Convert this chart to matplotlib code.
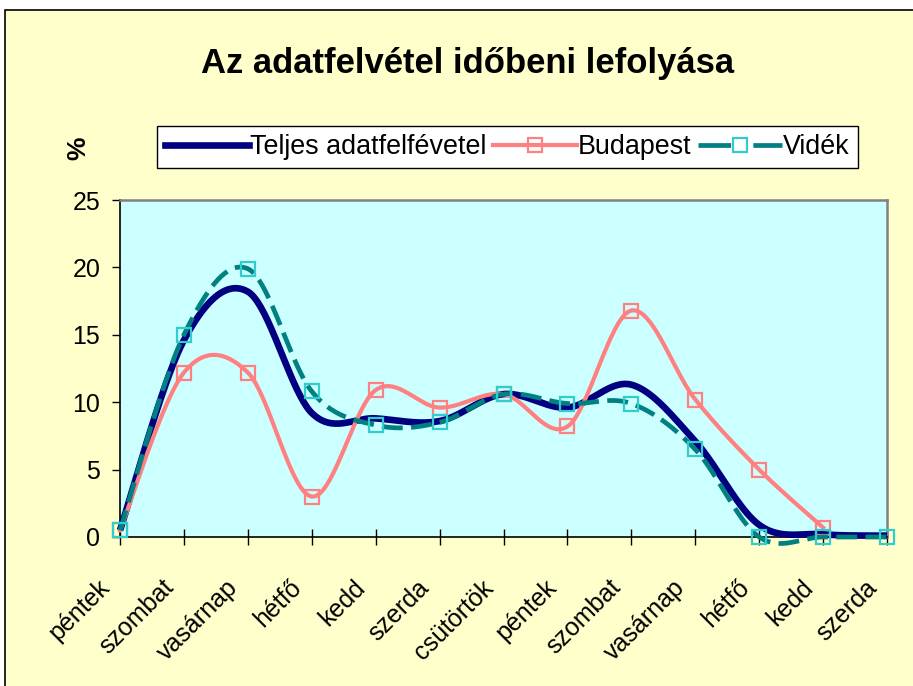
import numpy as np
import matplotlib
matplotlib.use("Agg")
import matplotlib.pyplot as plt
from matplotlib.patches import Rectangle
from matplotlib.transforms import ScaledTranslation

plt.rcParams['font.family'] = ['Liberation Sans', 'DejaVu Sans']
plt.rcParams['lines.scale_dashes'] = False

categories = ["péntek", "szombat", "vasárnap", "hétfő", "kedd", "szerda",
              "csütörtök", "péntek", "szombat", "vasárnap", "hétfő", "kedd", "szerda"]
teljes = [0.5, 14.6, 18.2, 9.2, 8.8, 8.6, 10.6, 9.6, 11.3, 7.1, 0.9, 0.2, 0.1]
budapest = [0.5, 12.2, 12.2, 3.0, 10.9, 9.6, 10.6, 8.2, 16.8, 10.2, 5.0, 0.7, np.nan]
videk = [0.5, 15.0, 19.9, 10.8, 8.3, 8.5, 10.6, 9.9, 9.9, 6.5, 0.0, 0.0, 0.0]
yticks = [0, 5, 10, 15, 20, 25]
title = "Az adatfelvétel időbeni lefolyása"
ylabel = "%"
series_names = ["Teljes adatfelfévetel", "Budapest", "Vidék"]


def smooth(xs, ys, n=40):
    xs = np.asarray(xs, float)
    ys = np.asarray(ys, float)
    m = ~np.isnan(ys)
    xs, ys = xs[m], ys[m]
    P = np.column_stack([xs, ys])
    k = len(P)
    out = []
    for i in range(k - 1):
        p0 = P[i - 1] if i > 0 else P[i]
        p1 = P[i]
        p2 = P[i + 1]
        p3 = P[i + 2] if i + 2 < k else P[i + 1]
        c1 = p1 + (p2 - p0) / 6.0
        c2 = p2 - (p3 - p1) / 6.0
        t = np.linspace(0, 1, n)[:, None]
        seg = ((1 - t) ** 3) * p1 + 3 * ((1 - t) ** 2) * t * c1 + 3 * (1 - t) * t ** 2 * c2 + t ** 3 * p2
        if i > 0:
            seg = seg[1:]
        out.append(seg)
    c = np.vstack(out)
    return c[:, 0], c[:, 1]


W, H = 913, 686
fig = plt.figure(figsize=(W / 100, H / 100), dpi=100, facecolor='white')
fig.patches.append(Rectangle((5 / W, -0.05), 1.1, 1 - 10 / H + 0.05, transform=fig.transFigure,
                             facecolor='#FFFFCC', edgecolor='black', lw=1.2, zorder=-10))

ax = fig.add_axes([120 / W, (H - 537) / H, 767 / W, 337 / H])
ax.set_zorder(2)
ax.set_facecolor('#CCFFFF')
x = np.arange(len(categories))

sx, sy = smooth(x, teljes)
ax.plot(sx, sy, color='#000080', lw=4.8, solid_capstyle='butt', clip_on=False, zorder=3)
sx, sy = smooth(x, budapest)
ax.plot(sx, sy, color='#FF8080', lw=3.0, clip_on=False, zorder=4)
ax.plot(x, budapest, ls='none', marker='s', ms=10, mfc='none', mec='#FF8080', mew=1.6,
        clip_on=False, zorder=5)
sx, sy = smooth(x, videk)
ax.plot(sx, sy, color='#008080', lw=3.4, dashes=(15, 6), dash_capstyle='butt', clip_on=False, zorder=6)
ax.plot(x, videk, ls='none', marker='s', ms=10, mfc='none', mec='#33CCCC', mew=1.6,
        clip_on=False, zorder=7)

ax.set_xlim(0, len(categories) - 1)
ax.set_ylim(0, 25)
ax.set_yticks(yticks)
ax.set_yticklabels([str(v) for v in yticks], fontsize=18)
ax.set_xticks(x)
ax.set_xticklabels(categories, fontsize=18, rotation=45, ha='right', va='center',
                   rotation_mode='anchor')
ax.tick_params(axis='y', direction='out', length=5.8, width=1, pad=8.5, color='black')
ax.tick_params(axis='x', direction='inout', length=11.5, width=1, pad=28, color='black')
off = ScaledTranslation(-14 / 100, 0, fig.dpi_scale_trans)
for lab in ax.get_xticklabels():
    lab.set_transform(lab.get_transform() + off)

for s in ['left', 'bottom']:
    ax.spines[s].set_color('black')
    ax.spines[s].set_linewidth(1.2)
for s in ['top', 'right']:
    ax.spines[s].set_color('#808080')
    ax.spines[s].set_linewidth(1.8)

fig.text(468 / W, 1 - 64 / H, title, ha='center', va='center', fontsize=24.9, fontweight='bold')
fig.text(78 / W, 1 - 148 / H, ylabel, ha='center', va='center', fontsize=19, fontweight='bold',
         rotation=90)

h1 = plt.Line2D([], [], color='#000080', lw=4.8)
h2 = plt.Line2D([], [], color='#FF8080', lw=3.0, marker='s', ms=10, mfc='none', mec='#FF8080', mew=1.6)
h3 = plt.Line2D([], [], color='#008080', lw=3.4, dashes=(23.5, 16), dash_capstyle='butt',
                marker='s', ms=10, mfc='white', mec='#33CCCC', mew=1.6)
leg = fig.legend([h1, h2, h3], series_names, loc='center', bbox_to_anchor=(507.5 / W, 1 - 147 / H),
                 ncol=3, fontsize=19.4, frameon=True, fancybox=False, framealpha=1, edgecolor='black',
                 handlelength=3.1, handletextpad=0.05, columnspacing=0.25, borderpad=0.3,
                 borderaxespad=0, numpoints=1)
leg.get_frame().set_linewidth(1.0)

fig.savefig('out.png', dpi=100, facecolor='white')
